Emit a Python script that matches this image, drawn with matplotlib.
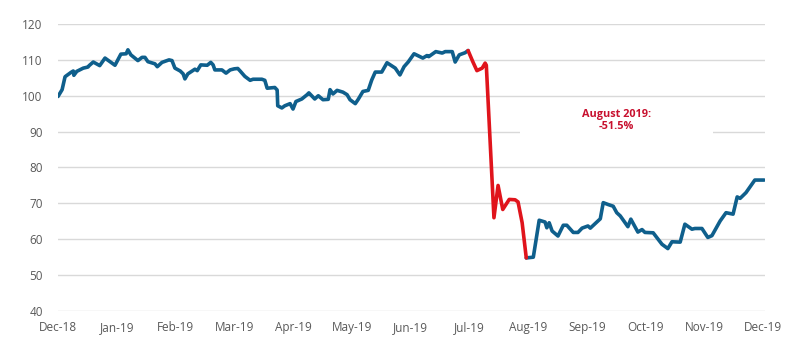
import numpy as np
import matplotlib.pyplot as plt
from matplotlib.patches import Rectangle

# position in months since Dec-18 (ticks are evenly spaced, one per month)
months = [
    0.00, 0.07, 0.12, 0.22, 0.26, 0.27, 0.32, 0.43, 0.51, 0.53, 0.60, 0.71,
    0.80, 0.97, 1.07, 1.16, 1.19, 1.24, 1.36, 1.43, 1.48, 1.53, 1.65, 1.69,
    1.77, 1.89, 1.94, 1.99, 2.08, 2.13, 2.16, 2.21, 2.33, 2.37, 2.43, 2.54,
    2.60, 2.64, 2.67, 2.79, 2.86, 2.93, 3.00, 3.06, 3.10, 3.18, 3.27, 3.32,
    3.47, 3.52, 3.56, 3.69, 3.73, 3.74, 3.81, 3.86, 3.95, 4.00, 4.05, 4.15,
    4.24, 4.27, 4.37, 4.43, 4.51, 4.60, 4.63, 4.68, 4.75, 4.85, 4.92, 4.97,
    5.06, 5.11, 5.19, 5.28, 5.34, 5.40, 5.51, 5.60, 5.74, 5.82, 5.89, 5.96,
    6.06, 6.21, 6.28, 6.31, 6.43, 6.54, 6.59, 6.71, 6.76, 6.83, 6.93, 6.98,
    7.06, 7.13, 7.22, 7.27, 7.29, 7.42, 7.49, 7.57, 7.68, 7.78, 7.83, 7.90,
    7.97, 8.09, 8.19, 8.29, 8.32, 8.36, 8.41, 8.51, 8.60, 8.66, 8.77, 8.85,
    8.92, 9.02, 9.06, 9.23, 9.28, 9.36, 9.45, 9.51, 9.57, 9.70, 9.75, 9.87,
    9.94, 9.99, 10.13, 10.28, 10.38, 10.45, 10.59, 10.67, 10.79, 10.84,
    10.96, 11.06, 11.13, 11.27, 11.37, 11.49, 11.56, 11.61, 11.71, 11.86,
    12.02,
]
index = [
    99.8, 101.7, 105.3, 106.5, 106.9, 105.7, 106.8, 107.7, 108.0, 108.4, 109.4, 108.4,
    110.5, 108.5, 111.6, 111.7, 112.8, 111.4, 109.8, 110.7, 110.7, 109.5, 108.9, 108.1,
    109.3, 110.0, 109.8, 107.7, 106.9, 106.1, 104.7, 106.1, 107.4, 107.0, 108.6, 108.5,
    109.3, 108.6, 107.2, 107.2, 106.3, 107.2, 107.5, 107.6, 106.9, 105.4, 104.3, 104.6,
    104.6, 104.3, 102.1, 102.3, 101.6, 97.2, 96.6, 97.2, 97.8, 96.3, 98.4, 99.1,
    100.3, 100.8, 99.1, 100.0, 98.9, 99.0, 101.7, 100.5, 101.5, 101.0, 100.3, 98.9,
    97.8, 99.0, 101.2, 101.5, 104.4, 106.6, 106.6, 109.2, 107.7, 105.8, 108.1, 109.4,
    111.7, 110.5, 111.2, 110.9, 112.3, 111.9, 112.3, 112.3, 109.4, 111.4, 112.0, 112.6,
    109.5, 107.0, 107.7, 109.1, 108.5, 66.0, 75.0, 68.3, 71.1, 71.0, 70.4, 64.6,
    54.8, 55.0, 65.3, 64.8, 63.2, 64.6, 62.3, 60.9, 63.9, 63.9, 61.9, 61.9,
    63.1, 63.7, 63.1, 65.7, 70.2, 69.7, 69.2, 67.4, 66.5, 63.5, 65.6, 62.0,
    62.7, 61.9, 61.8, 58.6, 57.4, 59.3, 59.2, 64.2, 62.8, 63.0,
    63.0, 60.5, 61.0, 65.1, 67.4, 67.0, 71.8, 71.4, 73.0, 76.5,
    76.5,
]
month_labels = ["Dec-18", "Jan-19", "Feb-19", "Mar-19", "Apr-19", "May-19", "Jun-19",
                "Jul-19", "Aug-19", "Sep-19", "Oct-19", "Nov-19", "Dec-19"]
drop_start, drop_end = 6.98, 7.97
note = "August 2019:\n-51.5%"

BLUE = "#0f5f8c"
RED = "#e0141c"

x = np.array(months)
y = np.array(index)
i0 = int(np.argmin(np.abs(x - drop_start)))
i1 = int(np.argmin(np.abs(x - drop_end)))

plt.rcParams["font.family"] = ["Open Sans", "DejaVu Sans"]
fig = plt.figure(figsize=(8, 3.56), dpi=100)
ax = fig.add_axes([0.0725, 0.1264, 0.8835, 0.8062])

kw = dict(lw=2.6, solid_joinstyle="round", solid_capstyle="round", zorder=3)
ax.plot(x[:i0 + 1], y[:i0 + 1], color=BLUE, **kw)
ax.plot(x[i1:], y[i1:], color=BLUE, **kw)
ax.plot(x[i0:i1 + 1], y[i0:i1 + 1], color=RED, **kw)

ax.set_ylim(40, 120)
ax.set_xlim(0, 12.03)
ax.set_yticks(range(40, 121, 10))
ax.set_xticks(range(len(month_labels)))
ax.set_xticklabels(month_labels)
ax.grid(axis="y", color="#d9d9d9", lw=1, zorder=0)
ax.set_axisbelow(True)
for s in ax.spines.values():
    s.set_visible(False)
ax.tick_params(length=0, labelsize=8.5, labelcolor="#595959")
ax.tick_params(axis="y", pad=11)
ax.tick_params(axis="x", pad=7)

# white text box behind the note hides the 90 gridline
ax.add_patch(Rectangle((7.86, 87.5), 3.29, 5.5, facecolor="white",
                       edgecolor="none", zorder=1))
ax.text(9.5, 93.0, note, color="#c8102e", fontsize=7.8, fontweight="bold",
        ha="center", va="center", linespacing=1.15, zorder=2)

fig.savefig("out.png")
